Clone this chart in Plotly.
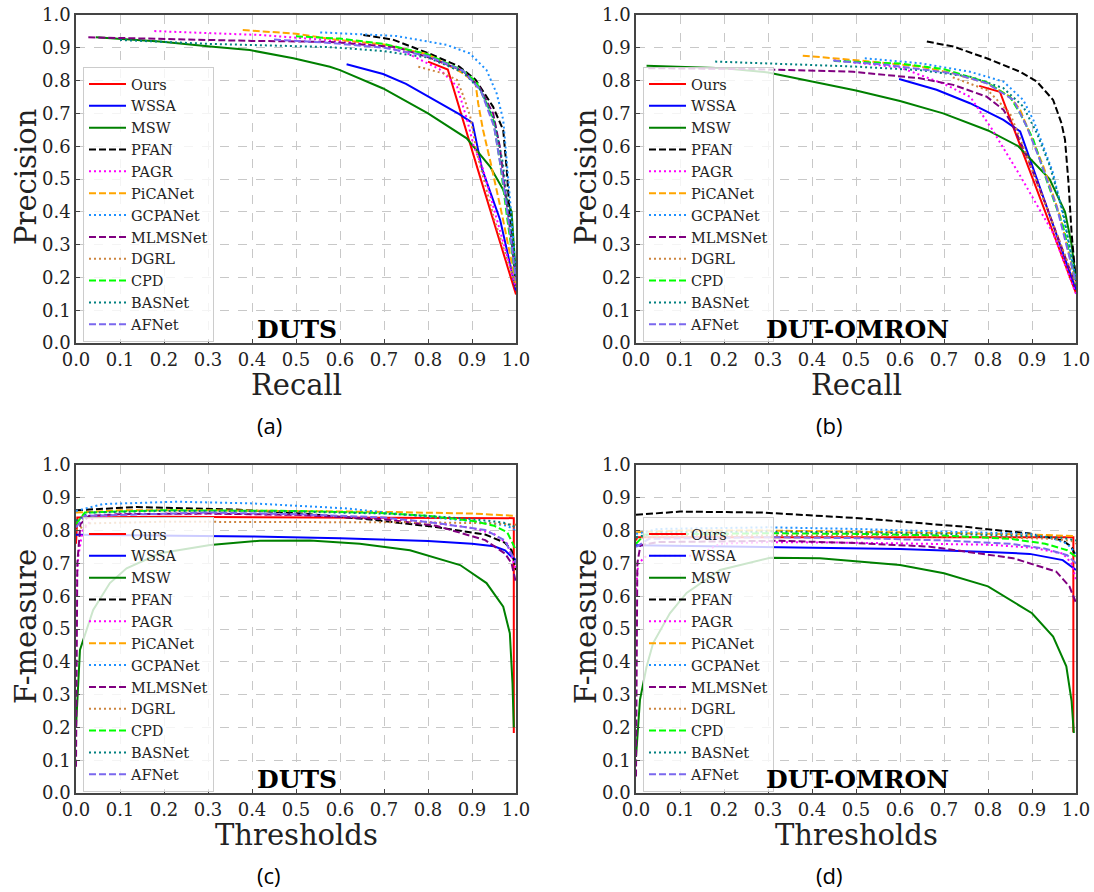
import plotly.graph_objects as go

METHODS = ["Ours", "WSSA", "MSW", "PFAN", "PAGR", "PiCANet", "GCPANet",
           "MLMSNet", "DGRL", "CPD", "BASNet", "AFNet"]
COLORS = ["#ff0000", "#0000ff", "#008000", "#000000", "#ff00ff", "#ffa500",
          "#1e90ff", "#800080", "#cd853f", "#00ff00", "#008080", "#7b68ee"]
DASHES = ["solid", "solid", "solid", "7px,3px", "2px,3px", "7px,3px",
          "2px,3px", "7px,3px", "2px,3px", "7px,3px", "2px,3px", "7px,3px"]

TICKS = [0.0, 0.1, 0.2, 0.3, 0.4, 0.5, 0.6, 0.7, 0.8, 0.9, 1.0]
TICK_TEXT = ["0.0", "0.1", "0.2", "0.3", "0.4", "0.5", "0.6", "0.7", "0.8", "0.9", "1.0"]

# ---------- (a) PR curves, DUTS: (recall, precision) ----------
A_OURS = [(0.80, 0.858), (0.845, 0.834), (0.913, 0.53), (1.0, 0.148)]
A_WSSA = [(0.615, 0.85), (0.698, 0.82), (0.75, 0.79), (0.8, 0.752), (0.871, 0.698),
          (0.901, 0.671), (0.923, 0.53), (0.964, 0.375), (1.0, 0.16)]
A_MSW = [(0.045, 0.932), (0.19, 0.919), (0.305, 0.904), (0.395, 0.893), (0.494, 0.868),
         (0.577, 0.842), (0.6, 0.832), (0.698, 0.776), (0.8, 0.70), (0.888, 0.624),
         (0.941, 0.538), (0.971, 0.467), (0.99, 0.40), (1.0, 0.2)]
A_PFAN = [(0.653, 0.939), (0.72, 0.925), (0.802, 0.883), (0.871, 0.843), (0.908, 0.803),
          (0.948, 0.72), (0.971, 0.649), (0.979, 0.527), (0.988, 0.35), (1.0, 0.17)]
A_PAGR = [(0.178, 0.951), (0.418, 0.939), (0.57, 0.924), (0.7, 0.905), (0.75, 0.885),
          (0.826, 0.835), (0.866, 0.782), (0.889, 0.68), (0.904, 0.60), (0.925, 0.53),
          (0.96, 0.36), (1.0, 0.17)]
A_PICANET = [(0.379, 0.954), (0.5, 0.943), (0.577, 0.927), (0.7, 0.91), (0.8, 0.88),
             (0.88, 0.822), (0.908, 0.792), (0.914, 0.731), (0.925, 0.65), (0.941, 0.558),
             (0.97, 0.38), (1.0, 0.18)]
A_GCPANET = [(0.555, 0.947), (0.728, 0.936), (0.842, 0.909), (0.895, 0.883), (0.933, 0.832),
             (0.956, 0.761), (0.971, 0.68), (0.979, 0.558), (0.99, 0.38), (1.0, 0.2)]
A_MLMSNET = [(0.028, 0.932), (0.2, 0.926), (0.4, 0.921), (0.577, 0.918), (0.728, 0.902),
             (0.803, 0.87), (0.879, 0.83), (0.917, 0.78), (0.948, 0.70), (0.963, 0.60),
             (0.98, 0.42), (1.0, 0.2)]
A_DGRL = [(0.778, 0.842), (0.835, 0.822), (0.866, 0.802), (0.881, 0.751), (0.896, 0.69),
          (0.911, 0.58), (0.95, 0.38), (1.0, 0.17)]
A_CPD = [(0.5, 0.935), (0.6, 0.928), (0.7, 0.912), (0.8, 0.88), (0.88, 0.83), (0.91, 0.795),
         (0.93, 0.74), (0.948, 0.68), (0.963, 0.558), (0.98, 0.38), (1.0, 0.19)]
A_BASNET = [(0.1, 0.924), (0.3, 0.912), (0.5, 0.905), (0.577, 0.902), (0.7, 0.89), (0.8, 0.87),
            (0.88, 0.825), (0.92, 0.77), (0.95, 0.68), (0.97, 0.55), (0.985, 0.38), (1.0, 0.2)]
A_AFNET = [(0.45, 0.925), (0.577, 0.915), (0.7, 0.9), (0.8, 0.875), (0.88, 0.83), (0.92, 0.77),
           (0.95, 0.66), (0.97, 0.5), (0.985, 0.35), (1.0, 0.19)]

# ---------- (b) PR curves, DUT-OMRON ----------
B_OURS = [(0.78, 0.784), (0.827, 0.766), (1.0, 0.152)]
B_WSSA = [(0.598, 0.805), (0.683, 0.772), (0.759, 0.731), (0.835, 0.68), (0.873, 0.645), (1.0, 0.162)]
B_MSW = [(0.024, 0.845), (0.2, 0.838), (0.3, 0.825), (0.388, 0.8), (0.5, 0.77), (0.6, 0.738),
         (0.698, 0.7), (0.8, 0.648), (0.869, 0.6), (0.94, 0.5), (0.975, 0.4), (0.99, 0.3), (1.0, 0.19)]
B_PFAN = [(0.661, 0.919), (0.721, 0.904), (0.797, 0.868), (0.873, 0.827), (0.911, 0.797),
          (0.948, 0.741), (0.967, 0.67), (0.975, 0.62), (0.983, 0.487), (0.99, 0.335), (1.0, 0.183)]
B_PAGR = [(0.45, 0.862), (0.6, 0.84), (0.7, 0.79), (0.76, 0.75), (0.81, 0.65), (0.873, 0.51),
          (0.948, 0.335), (1.0, 0.15)]
B_PICANET = [(0.379, 0.876), (0.494, 0.863), (0.645, 0.843), (0.721, 0.822), (0.797, 0.792),
             (0.85, 0.751), (0.873, 0.711), (0.895, 0.64), (0.926, 0.538), (0.964, 0.386), (1.0, 0.183)]
B_GCPANET = [(0.52, 0.868), (0.645, 0.853), (0.759, 0.827), (0.835, 0.797), (0.88, 0.741),
             (0.903, 0.68), (0.926, 0.599), (0.948, 0.518), (0.971, 0.386), (1.0, 0.193)]
B_MLMSNET = [(0.028, 0.838), (0.267, 0.835), (0.494, 0.827), (0.645, 0.807), (0.721, 0.787),
             (0.797, 0.751), (0.835, 0.711), (0.858, 0.66), (0.888, 0.569), (0.933, 0.416), (1.0, 0.173)]
B_DGRL = [(0.72, 0.81), (0.8, 0.77), (0.85, 0.7), (0.88, 0.6), (0.92, 0.46), (1.0, 0.18)]
B_CPD = [(0.45, 0.86), (0.6, 0.852), (0.7, 0.835), (0.797, 0.795), (0.85, 0.75), (0.873, 0.70),
         (0.903, 0.62), (0.933, 0.497), (0.971, 0.355), (1.0, 0.18)]
B_BASNET = [(0.18, 0.858), (0.342, 0.851), (0.494, 0.843), (0.645, 0.832), (0.759, 0.812),
            (0.835, 0.777), (0.88, 0.721), (0.911, 0.64), (0.941, 0.538), (0.971, 0.396), (1.0, 0.193)]
B_AFNET = [(0.448, 0.861), (0.57, 0.848), (0.721, 0.822), (0.797, 0.792), (0.858, 0.741),
           (0.888, 0.66), (0.918, 0.558), (0.956, 0.416), (1.0, 0.183)]

# ---------- (c) F-measure curves, DUTS: (threshold, F) ----------
C_OURS = [(0.0, 0.76), (0.003, 0.84), (0.2, 0.842), (0.5, 0.841), (0.8, 0.84), (0.995, 0.838), (0.995, 0.183)]
C_WSSA = [(0.0, 0.787), (0.2, 0.785), (0.4, 0.782), (0.6, 0.777), (0.712, 0.773), (0.8, 0.768),
          (0.9, 0.76), (0.95, 0.752), (0.975, 0.74), (0.99, 0.72), (1.0, 0.71)]
C_MSW = [(0.0, 0.20), (0.009, 0.436), (0.039, 0.558), (0.077, 0.64), (0.115, 0.685), (0.191, 0.731),
         (0.305, 0.756), (0.418, 0.769), (0.532, 0.77), (0.645, 0.76), (0.759, 0.74), (0.873, 0.695),
         (0.933, 0.64), (0.971, 0.568), (0.986, 0.487), (0.992, 0.335), (0.995, 0.2)]
C_PFAN = [(0.0, 0.862), (0.138, 0.872), (0.365, 0.864), (0.515, 0.852), (0.667, 0.834), (0.818, 0.811),
          (0.93, 0.788), (0.975, 0.763), (0.99, 0.74), (1.0, 0.68)]
C_PAGR = [(0.0, 0.6), (0.005, 0.72), (0.015, 0.8), (0.04, 0.84), (0.1, 0.85), (0.3, 0.852), (0.5, 0.848),
          (0.7, 0.838), (0.8, 0.826), (0.9, 0.808), (0.95, 0.79), (0.98, 0.76), (1.0, 0.68)]
C_PICANET = [(0.0, 0.855), (0.1, 0.862), (0.3, 0.862), (0.5, 0.86), (0.7, 0.857), (0.9, 0.852),
             (0.97, 0.848), (1.0, 0.845)]
C_GCPANET = [(0.0, 0.86), (0.062, 0.881), (0.23, 0.888), (0.4, 0.883), (0.61, 0.868), (0.84, 0.838),
             (0.94, 0.823), (0.98, 0.815), (1.0, 0.8)]
C_MLMSNET = [(0.0, 0.08), (0.003, 0.7), (0.01, 0.82), (0.03, 0.845), (0.1, 0.85), (0.3, 0.852),
             (0.5, 0.848), (0.7, 0.835), (0.818, 0.815), (0.93, 0.771), (0.975, 0.73), (0.99, 0.7), (1.0, 0.64)]
C_DGRL = [(0.0, 0.8), (0.03, 0.822), (0.2, 0.827), (0.5, 0.827), (0.8, 0.825), (0.95, 0.822), (1.0, 0.818)]
C_CPD = [(0.0, 0.82), (0.02, 0.855), (0.2, 0.862), (0.5, 0.86), (0.7, 0.853), (0.8, 0.845), (0.9, 0.83),
         (0.95, 0.815), (0.98, 0.795), (1.0, 0.74)]
C_BASNET = [(0.0, 0.83), (0.03, 0.855), (0.2, 0.86), (0.5, 0.858), (0.7, 0.852), (0.8, 0.845),
            (0.9, 0.835), (0.97, 0.825), (1.0, 0.81)]
C_AFNET = [(0.0, 0.81), (0.02, 0.845), (0.3, 0.855), (0.5, 0.85), (0.7, 0.84), (0.818, 0.823),
           (0.93, 0.802), (0.975, 0.77), (1.0, 0.7)]

# ---------- (d) F-measure curves, DUT-OMRON ----------
D_OURS = [(0.0, 0.77), (0.003, 0.78), (0.5, 0.78), (0.994, 0.78), (0.994, 0.185)]
D_WSSA = [(0.0, 0.755), (0.2, 0.752), (0.327, 0.749), (0.6, 0.744), (0.8, 0.735), (0.895, 0.729),
          (0.97, 0.71), (0.99, 0.69), (1.0, 0.68)]
D_MSW = [(0.0, 0.11), (0.009, 0.284), (0.024, 0.385), (0.039, 0.457), (0.077, 0.548), (0.115, 0.61),
         (0.191, 0.68), (0.305, 0.717), (0.418, 0.716), (0.5, 0.707), (0.6, 0.695), (0.7, 0.67),
         (0.8, 0.63), (0.9, 0.548), (0.948, 0.477), (0.978, 0.386), (0.99, 0.28), (0.995, 0.183)]
D_PFAN = [(0.0, 0.848), (0.1, 0.858), (0.289, 0.855), (0.516, 0.837), (0.744, 0.812), (0.895, 0.791),
          (0.97, 0.77), (0.99, 0.75), (1.0, 0.72)]
D_PAGR = [(0.0, 0.62), (0.005, 0.7), (0.024, 0.723), (0.138, 0.723), (0.191, 0.76), (0.3, 0.765),
          (0.5, 0.763), (0.8, 0.757), (0.9, 0.748), (0.97, 0.73), (0.99, 0.7), (1.0, 0.65)]
D_PICANET = [(0.0, 0.795), (0.1, 0.8), (0.3, 0.8), (0.5, 0.797), (0.7, 0.793), (0.9, 0.788),
             (0.97, 0.785), (1.0, 0.783)]
D_GCPANET = [(0.0, 0.79), (0.05, 0.805), (0.3, 0.81), (0.5, 0.805), (0.7, 0.797), (0.895, 0.79),
             (0.95, 0.775), (0.98, 0.76), (1.0, 0.73)]
D_MLMSNET = [(0.0, 0.05), (0.003, 0.7), (0.01, 0.755), (0.05, 0.765), (0.327, 0.769), (0.5, 0.762),
             (0.668, 0.751), (0.857, 0.716), (0.955, 0.675), (0.985, 0.63), (1.0, 0.58)]
D_DGRL = [(0.0, 0.78), (0.1, 0.785), (0.5, 0.785), (0.8, 0.78), (0.95, 0.775), (0.99, 0.768), (1.0, 0.76)]
D_CPD = [(0.0, 0.76), (0.02, 0.788), (0.3, 0.792), (0.5, 0.79), (0.7, 0.785), (0.85, 0.775),
         (0.93, 0.76), (0.98, 0.74), (1.0, 0.72)]
D_BASNET = [(0.0, 0.78), (0.05, 0.795), (0.3, 0.797), (0.5, 0.795), (0.7, 0.79), (0.9, 0.783),
            (0.97, 0.778), (1.0, 0.77)]
D_AFNET = [(0.0, 0.75), (0.03, 0.775), (0.3, 0.78), (0.5, 0.777), (0.7, 0.77), (0.85, 0.76),
           (0.93, 0.745), (0.98, 0.725), (1.0, 0.7)]

PANEL_A = [A_OURS, A_WSSA, A_MSW, A_PFAN, A_PAGR, A_PICANET, A_GCPANET, A_MLMSNET, A_DGRL, A_CPD, A_BASNET, A_AFNET]
PANEL_B = [B_OURS, B_WSSA, B_MSW, B_PFAN, B_PAGR, B_PICANET, B_GCPANET, B_MLMSNET, B_DGRL, B_CPD, B_BASNET, B_AFNET]
PANEL_C = [C_OURS, C_WSSA, C_MSW, C_PFAN, C_PAGR, C_PICANET, C_GCPANET, C_MLMSNET, C_DGRL, C_CPD, C_BASNET, C_AFNET]
PANEL_D = [D_OURS, D_WSSA, D_MSW, D_PFAN, D_PAGR, D_PICANET, D_GCPANET, D_MLMSNET, D_DGRL, D_CPD, D_BASNET, D_AFNET]

DATASETS = ["DUTS", "DUT-OMRON", "DUTS", "DUT-OMRON"]
XTITLES = ["Recall", "Recall", "Thresholds", "Thresholds"]
YTITLES = ["Precision", "Precision", "F-measure", "F-measure"]
CAPTIONS = ["(a)", "(b)", "(c)", "(d)"]

W, H = 1094, 892
SERIF = "DejaVu Serif"

# panel pixel boxes: left, right, top, bottom
BOXES = [(76, 516, 15, 343), (636, 1076, 15, 343), (76, 516, 465, 793), (636, 1076, 465, 793)]

def fx(px):
    return px / W

def fy(py):
    return 1 - py / H

fig = go.Figure()
layout = dict(
    width=W, height=H, margin=dict(l=0, r=0, t=0, b=0, autoexpand=False),
    paper_bgcolor="white", plot_bgcolor="white", showlegend=True,
    annotations=[],
)

panels = [PANEL_A, PANEL_B, PANEL_C, PANEL_D]
for k, (panel, box) in enumerate(zip(panels, BOXES)):
    sfx = "" if k == 0 else str(k + 1)
    xa, ya = "x" + sfx, "y" + sfx
    leg = "legend" + sfx
    for name, col, dash, pts in zip(METHODS, COLORS, DASHES, panel):
        fig.add_trace(go.Scatter(
            x=[p[0] for p in pts], y=[p[1] for p in pts], mode="lines",
            name=name, xaxis=xa, yaxis=ya, legend=leg,
            line=dict(color=col, width=2, dash=dash),
        ))
    l, r, t, b = box
    axcommon = dict(
        range=[0, 1], tickvals=TICKS, ticktext=TICK_TEXT, automargin=False,
        ticks="inside", ticklen=4, tickcolor="#444", tickwidth=1,
        showline=True, linecolor="#444", linewidth=1.5, mirror=True,
        showgrid=True, gridcolor="#c8c8c8", griddash="dash", gridwidth=1,
        zeroline=False, tickfont=dict(family=SERIF, size=18, color="#222"),
        fixedrange=True,
    )
    layout["xaxis" + sfx] = dict(axcommon, domain=[fx(l), fx(r)], anchor=ya)
    layout["yaxis" + sfx] = dict(axcommon, domain=[fy(b), fy(t)], anchor=xa)
    layout[leg] = dict(
        x=fx(l + 7), y=fy(t + 52), xanchor="left", yanchor="top", xref="paper", yref="paper",
        bgcolor="rgba(255,255,255,0.8)", bordercolor="#cccccc", borderwidth=1,
        font=dict(family=SERIF, size=14.5, color="#222"), itemwidth=37,
        tracegroupgap=0,
    )
    cx = (l + r) / 2
    cy = (t + b) / 2
    layout["annotations"] += [
        dict(text="<b>" + DATASETS[k] + "</b>", x=fx(cx + 1), y=fy(b - 14), xref="paper", yref="paper",
             showarrow=False, xanchor="center", yanchor="middle",
             font=dict(family=SERIF, size=25, color="black")),
        dict(text=XTITLES[k], x=fx(cx), y=fy(b + 42), xref="paper", yref="paper",
             showarrow=False, xanchor="center", yanchor="middle",
             font=dict(family=SERIF, size=29, color="#222")),
        dict(text=YTITLES[k], x=fx(l - 50), y=fy(cy - 2), xref="paper", yref="paper",
             showarrow=False, xanchor="center", yanchor="middle", textangle=-90,
             font=dict(family=SERIF, size=29, color="#222")),
        dict(text=CAPTIONS[k], x=fx(cx - 27), y=fy(b + 82), xref="paper", yref="paper",
             showarrow=False, xanchor="center", yanchor="middle",
             font=dict(family="Open Sans", size=22, color="black")),
    ]

fig.update_layout(**layout)
fig.write_html(
    "out.html",
    config={"displayModeBar": False},
    post_script="document.body.style.margin='0';document.body.style.padding='0';"
                "document.body.style.overflow='hidden';",
)
